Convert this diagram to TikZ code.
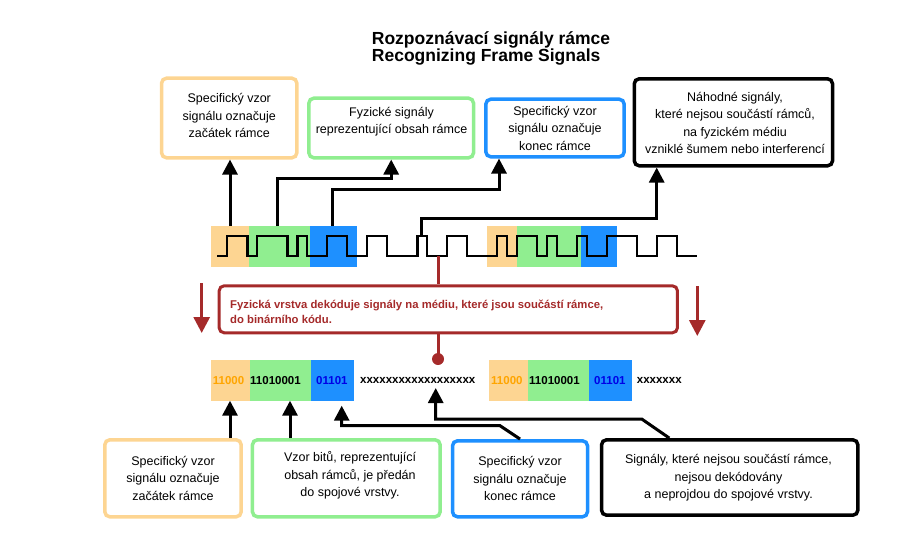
\documentclass[tikz,border=0pt]{standalone}
\usepackage{fontspec}
\setmainfont{Liberation Sans}
\usetikzlibrary{arrows.meta,calc}
\definecolor{ofill}{RGB}{253,213,146}
\definecolor{gfill}{RGB}{144,238,144}
\definecolor{bfill}{RGB}{30,144,255}
\definecolor{dred}{RGB}{165,42,42}
\definecolor{otext}{RGB}{255,165,0}
\definecolor{btext}{RGB}{0,0,230}
\begin{document}
\begin{tikzpicture}[x=1pt,y=-1pt,
  band/.style={draw=none, inner sep=0pt, outer sep=0pt},
  box/.style={draw, rounded corners=5pt, line width=3.5pt, inner sep=0pt, fill=white},
  boxtext/.style={align=center, font=\fontsize{12.5}{17.5}\selectfont, inner sep=0pt},
  bits/.style={anchor=west, font=\bfseries\fontsize{11.5}{13}\selectfont, inner sep=0pt},
  conn/.style={line width=3pt, -{Triangle[width=15pt,length=15pt]}},
  redline/.style={line width=3pt, draw=dred},
  redarrow/.style={line width=3pt, draw=dred, -{Triangle[width=16pt,length=16pt]}, color=dred},
  wave/.style={line width=2.4pt, line join=miter}
]
\useasboundingbox (0,0) rectangle (923,551);

% title
\node[anchor=base west, inner sep=0pt, font=\bfseries\fontsize{17.5}{17.5}\selectfont] (title1) at (371.7,45) {Rozpoznávací signály rámce};
\node[anchor=base west, inner sep=0pt, font=\bfseries\fontsize{17.5}{17.5}\selectfont] (title2) at (371.7,61.5) {Recognizing Frame Signals};

% top boxes
\node[box, draw=ofill, minimum width=135.3pt, minimum height=79.6pt] (TO) at (229.2,118) {};
\node[boxtext] (TOt) at (229.2,115.5) {Specifický vzor\\signálu označuje\\začátek rámce};
\node[box, draw=gfill, minimum width=164.7pt, minimum height=59.6pt] (TG) at (391.2,128) {};
\node[boxtext] (TGt) at (391.5,121.7) {Fyzické signály\\reprezentující obsah rámce};
\node[box, draw=bfill, minimum width=138.4pt, minimum height=57.6pt] (TB) at (555,128) {};
\node[boxtext] (TBt) at (555,128.3) {Specifický vzor\\signálu označuje\\konec rámce};
\node[box, draw=black, minimum width=198.3pt, minimum height=87pt] (TK) at (733.4,122.3) {};
\node[boxtext] (TKt) at (735,122.9) {Náhodné signály,\\které nejsou součástí rámců,\\na fyzickém médiu\\vzniklé šumem nebo interferencí};

% signal bands
\node[band, fill=ofill, minimum width=38pt, minimum height=40.7pt] (o1) at (230,246.35) {};
\node[band, fill=gfill, minimum width=61pt, minimum height=40.7pt] (g1) at (279.5,246.35) {};
\node[band, fill=bfill, minimum width=46.7pt, minimum height=40.7pt] (b1) at (333.35,246.35) {};
\node[band, fill=ofill, minimum width=30.3pt, minimum height=40.7pt] (o2) at (502.15,246.35) {};
\node[band, fill=gfill, minimum width=63.7pt, minimum height=40.7pt] (g2) at (549.15,246.35) {};
\node[band, fill=bfill, minimum width=36.3pt, minimum height=40.7pt] (b2) at (599.15,246.35) {};

% waveform
\draw[wave] (217,256) -- (227,256) -- (227,236) -- (247.5,236) -- (247.5,256) -- (257,256) -- (257,236)
  -- (287.5,236) -- (287.5,256) -- (297.5,256) -- (297.5,236) -- (307,236) -- (307,256) -- (327,256)
  -- (327,236) -- (347,236) -- (347,256) -- (367,256) -- (367,236) -- (387,236) -- (387,256)
  -- (417.5,256) -- (417.5,236) -- (427,236) -- (427,256) -- (447,256) -- (447,236) -- (467,236)
  -- (467,256) -- (497,256) -- (497,236) -- (507,236) -- (507,256) -- (517,256) -- (517,236)
  -- (537,236) -- (537,256) -- (547,256) -- (547,236) -- (557,236) -- (557,256) -- (577,256)
  -- (577,236) -- (587,236) -- (587,256) -- (607,256) -- (607,236) -- (637,236) -- (637,256)
  -- (657,256) -- (657,236) -- (677,236) -- (677,256) -- (697,256);

% top connectors
\coordinate (s1) at (230,226);
\coordinate (s2) at (277.7,226);
\coordinate (k2) at (277.7,178.3);
\coordinate (s3) at (332.3,226);
\coordinate (k3) at (332.3,189);
\coordinate (s4) at (421.7,236);
\coordinate (k4) at (421.7,218.3);
\draw[conn] (s1) -- (s1 |- TO.south);
\draw[conn] (s2) -- (k2) -| (TG.south);
\draw[conn] (s3) -- (k3) -| (499,0 |- TB.south);
\draw[conn] (s4) -- (k4) -| (656.7,0 |- TK.south);

% red decode box
\node[draw=dred, line width=3pt, rounded corners=5pt, fill=white, minimum width=458.3pt, minimum height=47pt, inner sep=0pt] (RB) at (448.3,309.3) {};
\node[anchor=west, align=left, inner sep=0pt, text=dred, font=\bfseries\fontsize{11.3}{15.2}\selectfont] (RBt) at (230,312)
  {Fyzická vrstva dekóduje signály na médiu, které jsou součástí rámce,\\do binárního kódu.};
\coordinate (rw) at (438.3,256);
\draw[redline] (rw) -- (rw |- RB.north);
\node[circle, fill=dred, minimum size=12pt, inner sep=0pt] (dot) at (438,359) {};
\draw[redline] (dot |- RB.south) -- (dot.center);
\coordinate (la1) at (201.7,283);
\coordinate (la2) at (201.7,333);
\coordinate (ra1) at (697.3,286);
\coordinate (ra2) at (697.3,336);
\draw[redarrow] (la1) -- (la2);
\draw[redarrow] (ra1) -- (ra2);

% bit bands
\node[band, fill=ofill, minimum width=39pt, minimum height=40.7pt] (bo1) at (230.5,380.35) {};
\node[band, fill=gfill, minimum width=61pt, minimum height=40.7pt] (bg1) at (280.5,380.35) {};
\node[band, fill=bfill, minimum width=43pt, minimum height=40.7pt] (bb1) at (332.5,380.35) {};
\node[band, fill=ofill, minimum width=38.7pt, minimum height=40.7pt] (bo2) at (508.35,380.35) {};
\node[band, fill=gfill, minimum width=61.3pt, minimum height=40.7pt] (bg2) at (558.35,380.35) {};
\node[band, fill=bfill, minimum width=42.7pt, minimum height=40.7pt] (bb2) at (610.35,380.35) {};

\node[bits, text=otext] (t1) at (212.7,380.7) {11000};
\node[bits] (t2) at (250,380.7) {11010001};
\node[bits, text=btext] (t3) at (316,380.7) {01101};
\node[bits] (t4) at (360,380.7) {xxxxxxxxxxxxxxxxxx};
\node[bits, text=otext] (t5) at (491,380.7) {11000};
\node[bits] (t6) at (529,380.7) {11010001};
\node[bits, text=btext] (t7) at (594,380.7) {01101};
\node[bits] (t8) at (636.7,380.7) {xxxxxxx};

% bottom boxes
\node[box, draw=ofill, minimum width=136.4pt, minimum height=77pt] (BO) at (173,478.3) {};
\node[boxtext] (BOt) at (173,478) {Specifický vzor\\signálu označuje\\začátek rámce};
\node[box, draw=gfill, minimum width=187.7pt, minimum height=77pt] (BG) at (346.3,478.3) {};
\node[boxtext] (BGt) at (350,475.7) {Vzor bitů, reprezentující\\obsah rámců, je předán\\do spojové vrstvy.};
\node[box, draw=bfill, minimum width=135pt, minimum height=76pt] (BB) at (520,478.8) {};
\node[boxtext] (BBt) at (520,478.8) {Specifický vzor\\signálu označuje\\konec rámce};
\node[box, draw=black, minimum width=256.3pt, minimum height=75.4pt] (BK) at (729.7,477.5) {};
\node[boxtext] (BKt) at (728.5,477.8) {Signály, které nejsou součástí rámce,\\nejsou dekódovány\\a neprojdou do spojové vrstvy.};

% bottom connectors
\coordinate (e3) at (500,425.7);
\coordinate (f3) at (341.7,425.7);
\coordinate (g3) at (341.7,405.7);
\coordinate (e4) at (641.7,419);
\coordinate (f4) at (435.7,419);
\coordinate (g4) at (435.7,388);
\draw[conn] (230,0 |- BO.north) -- (230,0 |- bo1.south);
\draw[conn] (290,0 |- BG.north) -- (290,0 |- bg1.south);
\draw[conn, line join=miter] (520,0 |- BB.north) -- (e3) -- (f3) -- (g3);
\draw[conn, line join=miter] (669.3,0 |- BK.north) -- (e4) -- (f4) -- (g4);
\end{tikzpicture}
\end{document}
